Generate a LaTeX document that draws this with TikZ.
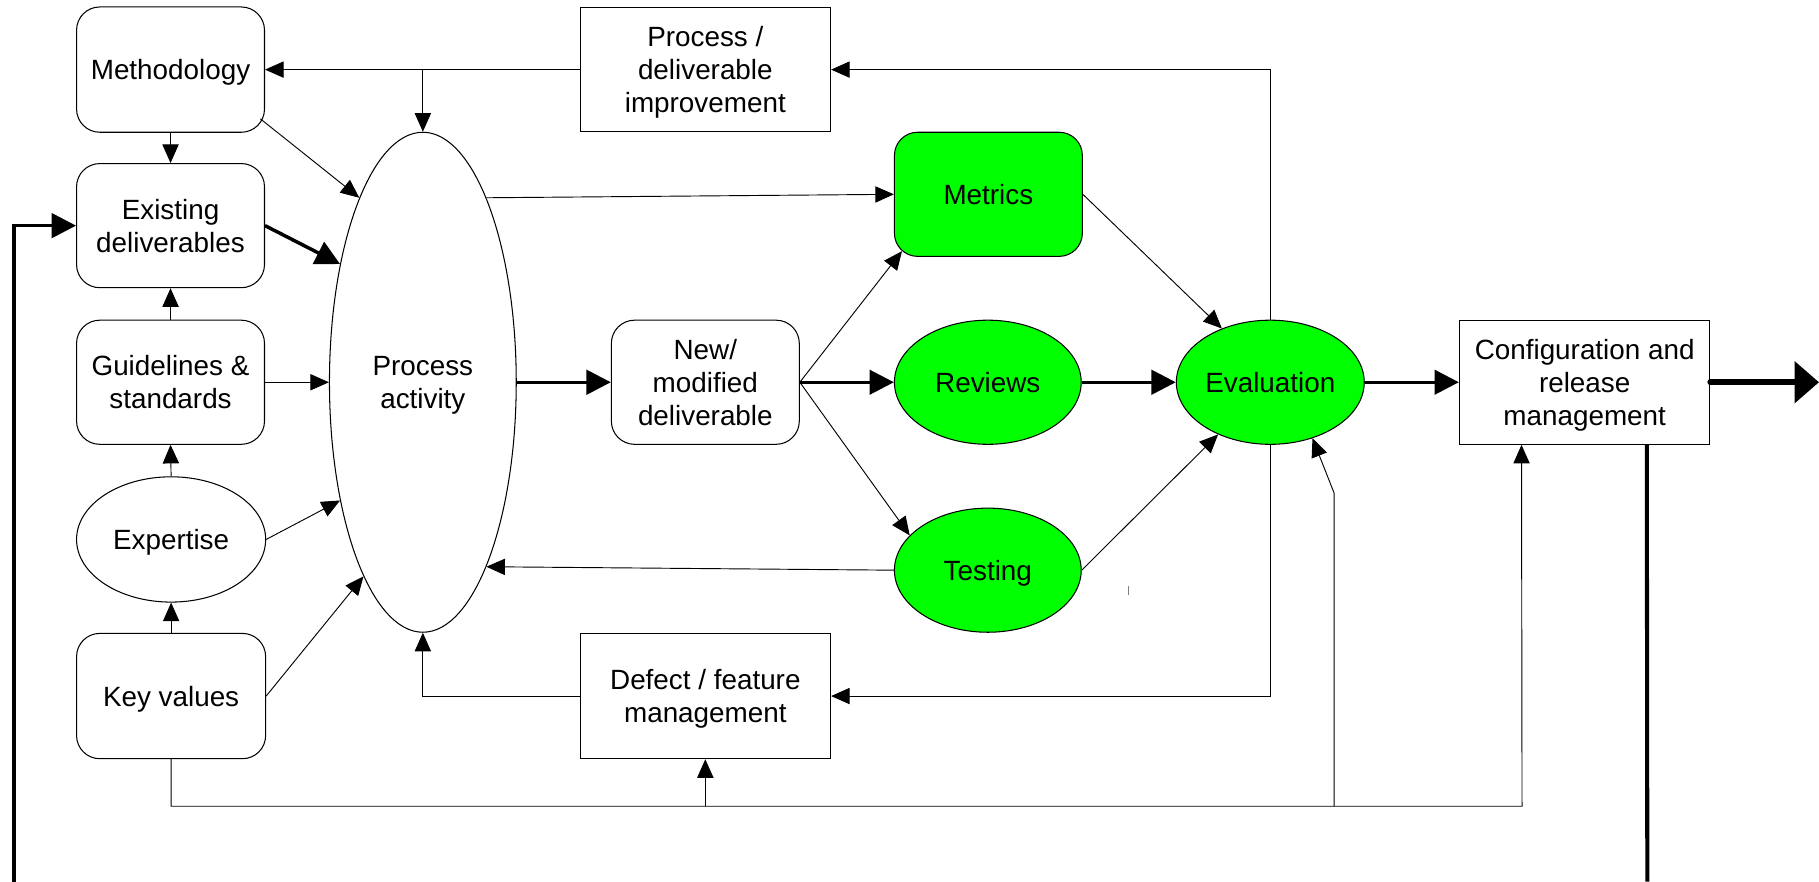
\documentclass[tikz,border=0pt]{standalone}
\usepackage{fontspec}
\setmainfont{Liberation Sans}
\usetikzlibrary{shapes.geometric,arrows.meta,calc}
\definecolor{bgreen}{RGB}{0,255,0}
\begin{document}
\begin{tikzpicture}[x=1pt,y=-1pt,
  every node/.style={font=\fontsize{24}{28.5}\selectfont, align=center, inner sep=0pt, text depth=0pt, line width=0.9pt},
  rbox/.style={draw, rounded corners=20pt, minimum width=162pt, minimum height=107pt},
  sbox/.style={draw, minimum width=216pt, minimum height=107pt},
  ell/.style={draw, ellipse, minimum width=162pt, minimum height=107pt},
  grn/.style={fill=bgreen},
  link/.style={line width=0.8pt},
  conn/.style={line width=0.8pt, -{Triangle[length=16pt,width=14pt]}},
  tconn/.style={line width=3pt, -{Triangle[length=21pt,width=21pt]}},
]
\useasboundingbox (0,0) rectangle (1568,760);

% nodes
\node[rbox, minimum height=108pt] (meth) at (147,60) {Methodology};
\node[rbox] (ed) at (147,194.5) {Existing\\deliverables};
\node[rbox] (gs) at (147,329.5) {Guidelines \&\\standards};
\node[ell, minimum width=163pt, minimum height=108pt] (ex) at (147.5,465) {Expertise};
\node[rbox, minimum width=163pt, minimum height=108pt] (kv) at (147.5,600) {Key values};
\node[ell, minimum width=161pt, minimum height=431pt] (pa) at (364.5,329.5) {Process\\activity};
\node[sbox] (pdi) at (608,60) {Process /\\deliverable\\improvement};
\node[rbox] (nm) at (608,329.5) {New/\\modified\\deliverable};
\node[rbox, grn] (met) at (852,167.5) {Metrics};
\node[ell, grn, minimum width=161pt] (rv) at (851.5,329.5) {Reviews};
\node[ell, grn, minimum width=161pt] (te) at (851.5,491.5) {Testing};
\node[ell, grn] (ev) at (1095,329.5) {Evaluation};
\node[sbox, minimum height=108pt] (dfm) at (608,600) {Defect / feature\\management};
\node[sbox] (cfg) at (1366,329.5) {Configuration and\\release\\management};

% helper coordinates
\coordinate (branchP) at (pdi.west -| pa.north);
\coordinate (lin) at (12,760);
\coordinate (busR) at (1312,695);
\coordinate (cfgin) at ($(cfg.south west)+(54,0)$);
\coordinate (evb) at (1150,695);
\coordinate (evk) at (1150,425);
\coordinate (cfgout) at ($(cfg.south west)+(162,0)$);
\coordinate (bot) at (1420,760);
\coordinate (rout) at (1568,329.5);

% left column
\draw[conn] (pdi.west) -- (pdi.west -| meth.east);
\draw[conn] (branchP) -- (pa.north);
\draw[conn] (meth.south) -- (ed.north);
\draw[conn] ($(meth.south east)+(-4,-12)$) -- (pa.109.6);
\draw[tconn] (ed.east) -- (pa.125.3);
\draw[tconn] (lin) |- (ed.west);
\draw[conn] (gs.north) -- (ed.south);
\draw[conn] (gs.east) -- (pa.west);
\draw[conn] (ex.north) -- (gs.south);
\draw[conn] (kv.north) -- (ex.south);
\draw[conn] (ex.east) -- (pa.-125.8);
\draw[conn] (kv.east) -- (pa.-107.3);

% middle
\draw[conn] (pa.71.3) -- (met.west);
\draw[tconn] (pa.east) -- (nm.west);
\draw[conn] (nm.east) -- ($(met.south west)+(7,-5)$);
\draw[tconn] (nm.east) -- (rv.west);
\draw[conn] (nm.east) -- (te.156.8);
\draw[conn] (te.west) -- (pa.-71.5);
\draw[conn] (dfm.west) -| (pa.south);

% evaluation
\draw[conn] (met.east) -- (ev.132.8);
\draw[tconn] (rv.east) -- (ev.west);
\draw[conn] (te.east) -- (ev.225.3);
\draw[conn] (ev.north) |- (pdi.east);
\draw[conn] (ev.south) |- (dfm.east);
\draw[tconn] (ev.east) -- (cfg.west);

% bottom bus
\draw[conn] (kv.south) |- (busR) -- (cfgin);
\draw[conn] (dfm.south |- busR) -- (dfm.south);
\draw[conn] (evb) -- (evk) -- (ev.-53.3);

% outputs
\draw[line width=5.5pt, line cap=round, -{Triangle[length=21pt,width=35pt]}] (cfg.east) -- (rout);
\draw[line width=3.5pt] (cfgout) -- (bot);

% small mark
\draw[link, gray] (973,505) -- (973,513);
\end{tikzpicture}
\end{document}
